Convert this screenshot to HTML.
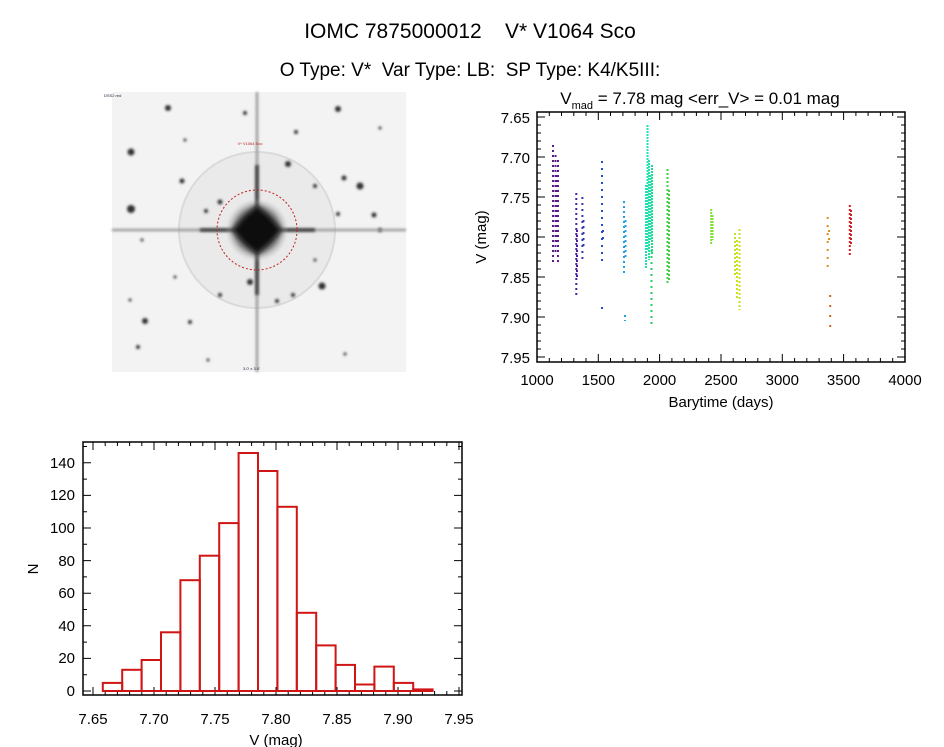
<!DOCTYPE html>
<html><head><meta charset="utf-8"><style>
html,body{margin:0;padding:0;background:#fff;}
svg{display:block;font-family:"Liberation Sans",sans-serif;}
</style></head><body>
<svg width="944" height="747" viewBox="0 0 944 747" xmlns="http://www.w3.org/2000/svg">
<defs>
<radialGradient id="core" cx="50%" cy="50%" r="50%">
<stop offset="0" stop-color="#000"/><stop offset="0.4" stop-color="#111"/><stop offset="0.7" stop-color="#666" stop-opacity="0.7"/><stop offset="1" stop-color="#ccc" stop-opacity="0"/>
</radialGradient>
<filter id="bl"><feGaussianBlur stdDeviation="1.2"/></filter>
<filter id="bl2"><feGaussianBlur stdDeviation="3"/></filter>
</defs>
<text x="470" y="38" font-size="21" text-anchor="middle" xml:space="preserve">IOMC 7875000012    V* V1064 Sco</text>
<text x="470" y="76" font-size="19" text-anchor="middle" xml:space="preserve">O Type: V*  Var Type: LB:  SP Type: K4/K5III:</text>

<!-- sky image -->
<rect x="112" y="92" width="294" height="280" fill="#f3f3f3"/>
<circle cx="257" cy="230" r="78" fill="#eaeaea" stroke="#dadada" stroke-width="2"/>
<g filter="url(#bl)" fill="#333">
<circle cx="168" cy="108" r="3"/><circle cx="131" cy="152" r="3.5"/><circle cx="131" cy="209" r="4"/><circle cx="182" cy="181" r="2.5"/>
<circle cx="288" cy="164" r="3"/><circle cx="338" cy="109" r="3"/><circle cx="344" cy="178" r="2.5"/><circle cx="360" cy="186" r="3.5"/>
<circle cx="315" cy="186" r="2"/><circle cx="374" cy="215" r="2.5"/><circle cx="322" cy="286" r="3.5"/><circle cx="250" cy="282" r="3"/>
<circle cx="220" cy="202" r="2.5"/><circle cx="206" cy="211" r="2"/><circle cx="145" cy="321" r="3"/><circle cx="220" cy="295" r="2"/>
<circle cx="190" cy="322" r="2"/><circle cx="138" cy="347" r="2"/><circle cx="245" cy="113" r="2"/><circle cx="296" cy="132" r="2"/>
<circle cx="293" cy="295" r="2"/><circle cx="277" cy="301" r="2"/><circle cx="338" cy="214" r="2"/><circle cx="380" cy="230" r="2"/>
<circle cx="185" cy="140" r="1.5"/><circle cx="175" cy="277" r="1.5"/><circle cx="315" cy="260" r="1.5"/><circle cx="130" cy="300" r="1.5"/>
<circle cx="345" cy="354" r="1.5"/><circle cx="380" cy="128" r="1.5"/><circle cx="208" cy="360" r="1.5"/><circle cx="142" cy="240" r="1.5"/>
</g>
<g filter="url(#bl)" stroke="#999" stroke-width="2.5">
<line x1="257" y1="92" x2="257" y2="372"/><line x1="112" y1="230" x2="406" y2="230"/>
</g>
<g filter="url(#bl)" stroke="#444" stroke-width="3.5">
<line x1="257" y1="165" x2="257" y2="295"/><line x1="200" y1="230" x2="315" y2="230"/>
</g>
<circle cx="257" cy="230" r="32" fill="url(#core)"/>
<polygon points="257,205 282,230 257,255 232,230" fill="#080808" filter="url(#bl2)"/>
<circle cx="257" cy="230" r="40" fill="none" stroke="#c02020" stroke-width="1" stroke-dasharray="2,2"/>
<text x="250" y="145" font-size="4" fill="#c02020" text-anchor="middle">V* V1064 Sco</text>
<text x="104" y="97" font-size="4" fill="#224">DSS2 red</text>
<text x="243" y="370" font-size="4" fill="#224">3.0' x 3.0'</text>

<!-- top-right plot -->
<text x="700" y="104" font-size="17" text-anchor="middle"><tspan>V</tspan><tspan font-size="11" dy="5">mad</tspan><tspan dy="-5"> = 7.78 mag &lt;err_V&gt; = 0.01 mag</tspan></text>
<rect x="537" y="112" width="368" height="250" fill="none" stroke="#000" stroke-width="1.5"/>
<g stroke="#000" stroke-width="1">
<path d="M598.3 362v-8M659.6 362v-8M721 362v-8M782.3 362v-8M843.6 362v-8M598.3 112v8M659.6 112v8M721 112v8M782.3 112v8M843.6 112v8"/>
<path d="M549.3 362v-4M561.5 362v-4M573.8 362v-4M586 362v-4M610.5 362v-4M622.9 362v-4M635.1 362v-4M647.4 362v-4M671.9 362v-4M684.2 362v-4M696.4 362v-4M708.7 362v-4M733.2 362v-4M745.5 362v-4M757.8 362v-4M770 362v-4M794.6 362v-4M806.8 362v-4M819.1 362v-4M831.3 362v-4M855.9 362v-4M868.1 362v-4M880.4 362v-4M892.7 362v-4"/>
<path d="M549.3 112v4M561.5 112v4M573.8 112v4M586 112v4M610.5 112v4M622.9 112v4M635.1 112v4M647.4 112v4M671.9 112v4M684.2 112v4M696.4 112v4M708.7 112v4M733.2 112v4M745.5 112v4M757.8 112v4M770 112v4M794.6 112v4M806.8 112v4M819.1 112v4M831.3 112v4M855.9 112v4M868.1 112v4M880.4 112v4M892.7 112v4"/>
<path d="M537 117h8M537 157h8M537 197h8M537 237h8M537 277h8M537 317h8M537 357h8M905 117h-8M905 157h-8M905 197h-8M905 237h-8M905 277h-8M905 317h-8M905 357h-8"/>
<path d="M537 125h4M537 133h4M537 141h4M537 149h4M537 165h4M537 173h4M537 181h4M537 189h4M537 205h4M537 213h4M537 221h4M537 229h4M537 245h4M537 253h4M537 261h4M537 269h4M537 285h4M537 293h4M537 301h4M537 309h4M537 325h4M537 333h4M537 341h4M537 349h4"/>
<path d="M905 125h-4M905 133h-4M905 141h-4M905 149h-4M905 165h-4M905 173h-4M905 181h-4M905 189h-4M905 205h-4M905 213h-4M905 221h-4M905 229h-4M905 245h-4M905 253h-4M905 261h-4M905 269h-4M905 285h-4M905 293h-4M905 301h-4M905 309h-4M905 325h-4M905 333h-4M905 341h-4M905 349h-4"/>
</g>
<g font-size="15" text-anchor="end">
<text x="530" y="123">7.65</text><text x="530" y="163">7.70</text><text x="530" y="203">7.75</text><text x="530" y="243">7.80</text><text x="530" y="283">7.85</text><text x="530" y="323">7.90</text><text x="530" y="363">7.95</text>
</g>
<g font-size="15" text-anchor="middle">
<text x="537" y="385">1000</text><text x="598.3" y="385">1500</text><text x="659.6" y="385">2000</text><text x="721" y="385">2500</text><text x="782.3" y="385">3000</text><text x="843.6" y="385">3500</text><text x="905" y="385">4000</text>
<text x="721" y="407">Barytime (days)</text>
</g>
<text transform="translate(486,237) rotate(-90)" font-size="15" text-anchor="middle">V (mag)</text>
<g stroke-width="2" fill="none">
<path stroke="#5a1a8a" stroke-dasharray="2,3" d="M553 145V265M555.5 155V255M558 160V265M556.5 175V245"/>
<path stroke="#4b1fa0" stroke-dasharray="2,3" d="M576.3 193V297M577 230V280"/>
<path stroke="#3535b5" stroke-dasharray="2,4" d="M582.4 197V260M583.5 220V250"/>
<path stroke="#2050d0" stroke-dasharray="2,5" d="M602 161V261M602 307V310M603 230V240"/>
<path stroke="#20a0e0" stroke-dasharray="2,3" d="M624 201V273M625 315V321M625.5 220V260"/>
<path stroke="#20e0b0" stroke-dasharray="2,1" d="M646 185V269M647.5 125V250M649 160V260M650.5 175V240"/>
<path stroke="#20e080" stroke-dasharray="2,1" d="M652 165V255"/>
<path stroke="#20d060" stroke-dasharray="2,4" d="M651.5 250V325"/>
<path stroke="#40d040" stroke-dasharray="2,2" d="M667.5 169V285M669 190V281"/>
<path stroke="#80e030" stroke-dasharray="2,1" d="M711.2 209V245M712.5 215V240"/>
<path stroke="#c8e020" stroke-dasharray="2,2" d="M735 233V275M737 240V300M739.5 229V310"/>
<path stroke="#e09020" stroke-dasharray="2,6" d="M827.7 217V270M829 230V245"/>
<path stroke="#d06020" stroke-dasharray="2,8" d="M830.2 295V335"/>
<path stroke="#d02020" stroke-dasharray="2,2" d="M849.8 205V257M851 210V245"/>
</g>

<!-- histogram -->
<rect x="83" y="442" width="379" height="253" fill="none" stroke="#000" stroke-width="1.5"/>
<g stroke="#000" stroke-width="1">
<path d="M93 695v-8M154 695v-8M215 695v-8M276 695v-8M337 695v-8M398 695v-8M459 695v-8M93 442v8M154 442v8M215 442v8M276 442v8M337 442v8M398 442v8M459 442v8"/>
<path d="M105.2 695v-4M117.4 695v-4M129.6 695v-4M141.8 695v-4M166.2 695v-4M178.4 695v-4M190.6 695v-4M202.8 695v-4M227.2 695v-4M239.4 695v-4M251.6 695v-4M263.8 695v-4M288.2 695v-4M300.4 695v-4M312.6 695v-4M324.8 695v-4M349.2 695v-4M361.4 695v-4M373.6 695v-4M385.8 695v-4M410.2 695v-4M422.4 695v-4M434.6 695v-4M446.8 695v-4"/>
<path d="M105.2 442v4M117.4 442v4M129.6 442v4M141.8 442v4M166.2 442v4M178.4 442v4M190.6 442v4M202.8 442v4M227.2 442v4M239.4 442v4M251.6 442v4M263.8 442v4M288.2 442v4M300.4 442v4M312.6 442v4M324.8 442v4M349.2 442v4M361.4 442v4M373.6 442v4M385.8 442v4M410.2 442v4M422.4 442v4M434.6 442v4M446.8 442v4"/>
<path d="M83 691h8M83 658.4h8M83 625.8h8M83 593.2h8M83 560.6h8M83 528h8M83 495.4h8M83 462.8h8M462 691h-8M462 658.4h-8M462 625.8h-8M462 593.2h-8M462 560.6h-8M462 528h-8M462 495.4h-8M462 462.8h-8"/>
<path d="M83 674.7h4M83 642.1h4M83 609.5h4M83 576.9h4M83 544.3h4M83 511.7h4M83 479.1h4M83 446.5h4M462 674.7h-4M462 642.1h-4M462 609.5h-4M462 576.9h-4M462 544.3h-4M462 511.7h-4M462 479.1h-4M462 446.5h-4"/>
</g>
<g font-size="15" text-anchor="end">
<text x="75" y="696">0</text><text x="75" y="663">20</text><text x="75" y="631">40</text><text x="75" y="598">60</text><text x="75" y="566">80</text><text x="75" y="533">100</text><text x="75" y="500">120</text><text x="75" y="468">140</text>
</g>
<g font-size="15" text-anchor="middle">
<text x="93" y="724">7.65</text><text x="154" y="724">7.70</text><text x="215" y="724">7.75</text><text x="276" y="724">7.80</text><text x="337" y="724">7.85</text><text x="398" y="724">7.90</text><text x="459" y="724">7.95</text>
<text x="276" y="745">V (mag)</text>
</g>
<text transform="translate(38,569) rotate(-90)" font-size="15" text-anchor="middle">N</text>
<g fill="none" stroke="#d01515" stroke-width="2">
<rect x="102.8" y="682.9" width="19.4" height="8.1"/>
<rect x="122.2" y="669.8" width="19.4" height="21.2"/>
<rect x="141.6" y="660" width="19.4" height="31"/>
<rect x="161" y="632.3" width="19.4" height="58.7"/>
<rect x="180.4" y="580.2" width="19.4" height="110.8"/>
<rect x="199.8" y="555.7" width="19.4" height="135.3"/>
<rect x="219.2" y="523.1" width="19.4" height="167.9"/>
<rect x="238.6" y="453" width="19.4" height="238"/>
<rect x="258" y="471" width="19.4" height="220"/>
<rect x="277.4" y="506.8" width="19.4" height="184.2"/>
<rect x="296.8" y="612.8" width="19.4" height="78.2"/>
<rect x="316.2" y="645.4" width="19.4" height="45.6"/>
<rect x="335.6" y="664.9" width="19.4" height="26.1"/>
<rect x="355" y="684.5" width="19.4" height="6.5"/>
<rect x="374.4" y="666.6" width="19.4" height="24.4"/>
<rect x="393.8" y="682.9" width="19.4" height="8.1"/>
<rect x="413.2" y="689.4" width="19.4" height="1.6"/>
</g>
</svg>
</body></html>
